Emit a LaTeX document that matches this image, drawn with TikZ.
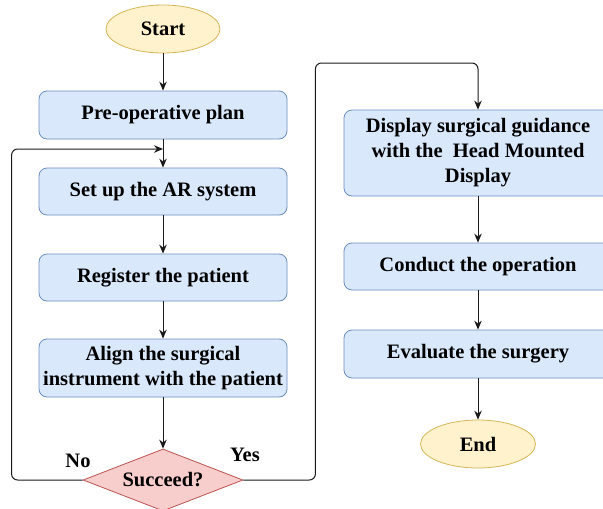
\documentclass[tikz,border=0pt]{standalone}
\usepackage{fontspec}
\setmainfont{Liberation Serif}
\usetikzlibrary{shapes.geometric,arrows.meta}
\definecolor{boxfill}{HTML}{DAE8FC}
\definecolor{boxline}{HTML}{6C8EBF}
\definecolor{termfill}{HTML}{FFF2CC}
\definecolor{termline}{HTML}{D6B656}
\definecolor{askfill}{HTML}{F8CECC}
\definecolor{askline}{HTML}{B85450}
\definecolor{flowline}{HTML}{1A1A1A}

\begin{document}
\begin{tikzpicture}[x=1pt,y=-1pt,
	font=\fontsize{20.5}{25}\selectfont\bfseries,
	stepbox/.style={draw=boxline,fill=boxfill,rounded corners=8pt,line width=0.8pt,minimum width=248pt,minimum height=47pt,align=center,inner sep=0pt},
	wide/.style={stepbox,minimum width=268pt},
	term/.style={ellipse,draw=termline,fill=termfill,line width=0.8pt,minimum width=114pt,minimum height=48pt,inner sep=0pt},
	ask/.style={diamond,draw=askline,fill=askfill,line width=0.8pt,minimum width=160pt,minimum height=62pt,aspect=2.58,inner sep=0pt},
	flow/.style={draw=flowline,line width=1pt,-{Stealth[length=9pt,width=7.5pt]}}]
	\useasboundingbox (0,0) rectangle (603,509);
	\clip (0,0) rectangle (603,509);
	\node[term] (start) at (163,29) {Start};
	\node[stepbox,minimum height=48pt] (plan) at (163,115) {Pre-operative plan};
	\node[stepbox] (setup) at (163,191.5) {Set up the AR system};
	\node[stepbox] (register) at (163,277.5) {Register the patient};
	\node[stepbox,minimum height=58pt] (align) at (163,368) {Align the surgical\\instrument with the patient};
	\node[ask] (succeed) at (163,480) {Succeed?};
	\node at (78,461) {No};
	\node at (245,455) {Yes};
	\node[wide,minimum height=86pt] (display) at (478,153) {Display surgical guidance\\with the~ Head Mounted\\Display};
	\node[wide] (conduct) at (478,266.5) {Conduct the operation};
	\node[wide,minimum height=48pt] (evaluate) at (478,354) {Evaluate the surgery};
	\node[term,minimum width=115pt] (end) at (478,444) {End};
	\coordinate (merge) at (163,149);
	\coordinate (yestop) at (478,63);
	\draw[flow] (start) -- (plan);
	\draw[flow] (plan) -- (setup);
	\draw[flow] (setup) -- (register);
	\draw[flow] (register) -- (align);
	\draw[flow] (align) -- (succeed);
	\draw[flow,rounded corners=6pt] (succeed.west) -- ++(-71,0) |- (merge);
	\draw[flow,rounded corners=6pt] (succeed.east) -- ++(72,0) |- (yestop) -- (display.north);
	\draw[flow] (display) -- (conduct);
	\draw[flow] (conduct) -- (evaluate);
	\draw[flow] (evaluate) -- (end);
\end{tikzpicture}
\end{document}
